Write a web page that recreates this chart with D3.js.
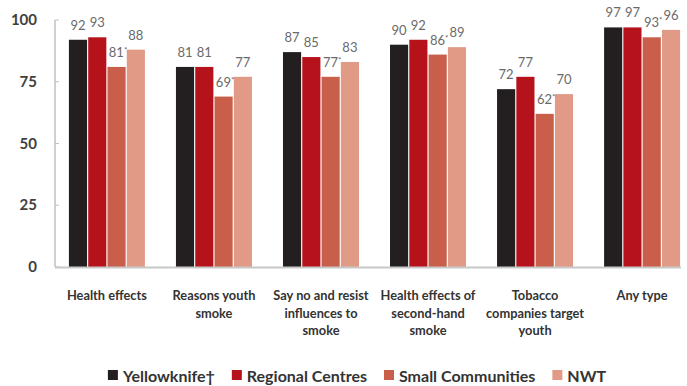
<!DOCTYPE html>
<html>
<head>
<meta charset="utf-8">
<script src="https://d3js.org/d3.v7.min.js"></script>
<style>
  body { margin: 0; background: #fff; }
  svg { display: block; font-family: Lato, "Open Sans", sans-serif; }
</style>
</head>
<body>
<svg width="687" height="386"></svg>
<script>
// categories (line breaks as in the original)
var categories = [
  'Health effects',
  'Reasons youth\nsmoke',
  'Say no and resist\ninfluences to\nsmoke',
  'Health effects of\nsecond-hand\nsmoke',
  'Tobacco\ncompanies target\nyouth',
  'Any type'
];
var seriesNames = ['Yellowknife\u2020', 'Regional Centres', 'Small Communities', 'NWT'];
var yellowknife = [92, 81, 87, 90, 72, 97];
var regional = [93, 81, 85, 92, 77, 97];
var small = [81, 69, 77, 86, 62, 93];
var nwt = [88, 77, 83, 89, 70, 96];
var flagged = [false, false, true, false]; // small communities values carry an asterisk
var yTicks = [0, 25, 50, 75, 100];
var colors = ['#231f20', '#b5121b', '#c95f4a', '#e09a86'];

var allSeries = [yellowknife, regional, small, nwt];

var svg = d3.select('svg');

var x = d3.scaleBand()
  .domain(categories)
  .range([55, 694])
  .paddingInner(0.29)
  .paddingOuter(0.13);

var xs = d3.scaleBand()
  .domain(seriesNames)
  .range([0, x.bandwidth()])
  .paddingInner(0.06);

var y = d3.scaleLinear().domain([0, 100]).range([267, 20]);

// y axis
svg.append('line')
  .attr('x1', 55).attr('x2', 55)
  .attr('y1', y(100)).attr('y2', y(0))
  .attr('stroke', '#c0c0c0').attr('stroke-width', 1.5);

svg.selectAll('.ytick')
  .data(yTicks)
  .enter()
  .append('line')
  .attr('x1', 55).attr('x2', 59)
  .attr('y1', d => y(d)).attr('y2', d => y(d))
  .attr('stroke', '#c0c0c0').attr('stroke-width', 1);

svg.selectAll('.ylab')
  .data(yTicks)
  .enter()
  .append('text')
  .attr('x', 37)
  .attr('y', d => y(d) + 5)
  .attr('text-anchor', 'end')
  .attr('font-size', 15)
  .attr('font-weight', 'bold')
  .attr('fill', '#404040')
  .text(d => d);

// bars
var groups = svg.selectAll('.grp')
  .data(categories)
  .enter()
  .append('g')
  .attr('transform', d => 'translate(' + x(d) + ',0)');

groups.each(function(cat, ci) {
  var g = d3.select(this);
  var rows = seriesNames.map((s, si) => ({s: s, si: si, v: allSeries[si][ci]}));

  g.selectAll('rect')
    .data(rows)
    .enter()
    .append('rect')
    .attr('x', d => xs(d.s))
    .attr('y', d => y(d.v))
    .attr('width', xs.bandwidth())
    .attr('height', d => y(0) - y(d.v))
    .attr('fill', d => colors[d.si]);

  var lab = g.selectAll('text')
    .data(rows)
    .enter()
    .append('text')
    .attr('x', d => xs(d.s) + xs.bandwidth() / 2 + (flagged[d.si] ? 1.5 : 0))
    .attr('y', d => y(d.v) - 10)
    .attr('text-anchor', 'middle')
    .attr('font-size', 13)
    .attr('fill', '#6a6a6a');
  lab.append('tspan').text(d => d.v);
  lab.filter(d => flagged[d.si])
    .append('tspan')
    .attr('font-size', 8)
    .attr('dy', -4)
    .text('*');
});

// baseline
svg.append('line')
  .attr('x1', 55).attr('x2', 681)
  .attr('y1', y(0) + 0.5).attr('y2', y(0) + 0.5)
  .attr('stroke', '#c8c8c8').attr('stroke-width', 2);

// category labels
svg.selectAll('.cat')
  .data(categories)
  .enter()
  .append('text')
  .attr('text-anchor', 'middle')
  .attr('font-size', 12.8)
  .attr('font-weight', 'bold')
  .attr('fill', '#333')
  .each(function(d) {
    var t = d3.select(this);
    d.split('\n').forEach((line, i) => {
      t.append('tspan')
        .attr('x', x(d) + x.bandwidth() / 2)
        .attr('y', 300 + i * 17.5)
        .text(line);
    });
  });

// legend
var legend = svg.append('g');
var lx = 0;
seriesNames.forEach((s, i) => {
  var item = legend.append('g').attr('transform', 'translate(' + lx + ',0)');
  item.append('rect')
    .attr('x', 0).attr('y', 370)
    .attr('width', 10).attr('height', 10)
    .attr('fill', colors[i]);
  var t = item.append('text')
    .attr('x', 15).attr('y', 382)
    .attr('font-size', 16)
    .attr('font-weight', 'bold')
    .attr('fill', '#333')
    .text(s);
  lx += 15 + t.node().getComputedTextLength() + 17;
});
var lw = lx - 17;
legend.attr('transform', 'translate(' + (357 - lw / 2) + ',0)');
</script>
</body>
</html>
